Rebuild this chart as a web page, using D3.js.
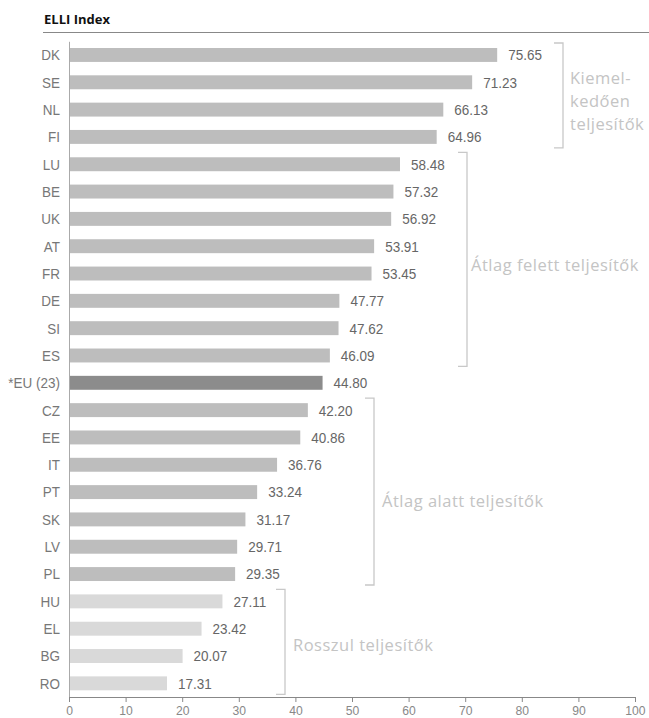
<!DOCTYPE html>
<html>
<head>
<meta charset="utf-8">
<script src="https://cdn.jsdelivr.net/npm/d3@7"></script>
<style>
  body { margin: 0; background: #fff; }
  svg { display: block; }
</style>
</head>
<body>
<svg id="chart" width="649" height="718"></svg>
<script>
// ELLI Index by country
const countries = ["DK","SE","NL","FI","LU","BE","UK","AT","FR","DE","SI","ES","*EU (23)","CZ","EE","IT","PT","SK","LV","PL","HU","EL","BG","RO"];
const values = [75.65,71.23,66.13,64.96,58.48,57.32,56.92,53.91,53.45,47.77,47.62,46.09,44.80,42.20,40.86,36.76,33.24,31.17,29.71,29.35,27.11,23.42,20.07,17.31];
const xTicks = [0,10,20,30,40,50,60,70,80,90,100];

// performance groups: first and last member, label lines
const groupNames = [["Kiemel-","kedően","teljesítők"],["Átlag felett teljesítők"],["Átlag alatt teljesítők"],["Rosszul teljesítők"]];
const groupFirst = ["DK","LU","CZ","HU"];
const groupLast = ["FI","ES","PL","RO"];

const svg = d3.select("#chart");
const narrowFont = "'Liberation Sans',Arial,sans-serif";
const squeeze = 0.9;   // horizontal compression for the narrow labels

const x = d3.scaleLinear().domain([0, 100]).range([69, 635]);
const y = d3.scaleBand().domain(countries).range([41.3, 697]).paddingInner(0.49).paddingOuter(0.245);

// title and rule
svg.append("text").attr("x", 44).attr("y", 24)
  .attr("font-family", "'Open Sans',sans-serif").attr("font-weight", "bold")
  .attr("font-size", 13).attr("fill", "#111").text("ELLI Index");
svg.append("line").attr("x1", 43).attr("x2", 649).attr("y1", 32.5).attr("y2", 32.5)
  .attr("stroke", "#888").attr("stroke-width", 1);

function barColor(c) {
  if (c === "*EU (23)") return "#8c8c8c";
  if (countries.indexOf(c) >= countries.indexOf("HU")) return "#d9d9d9";
  return "#bdbdbd";
}

// bars
svg.append("g").selectAll("rect").data(countries).join("rect")
  .attr("x", x(0)).attr("y", d => y(d))
  .attr("width", (d, i) => x(values[i]) - x(0))
  .attr("height", y.bandwidth())
  .attr("fill", barColor);

// value labels (narrowed text)
svg.append("g").selectAll("text").data(countries).join("text")
  .attr("transform", (d, i) => `translate(${x(values[i]) + 11},${y(d) + y.bandwidth() / 2}) scale(${squeeze},1)`)
  .attr("dy", "0.36em")
  .attr("font-family", narrowFont).attr("font-size", 15)
  .attr("fill", "#666")
  .text((d, i) => values[i].toFixed(2));

// category axis
const yAxis = svg.append("g").attr("transform", `translate(${x(0)},0)`)
  .call(d3.axisLeft(y).tickSize(0).tickPadding(9));
yAxis.select(".domain").attr("stroke", "#aaa");
yAxis.selectAll(".tick text")
  .attr("x", null).attr("dy", "0.36em")
  .attr("transform", `translate(-9,0) scale(${squeeze},1)`)
  .attr("font-family", narrowFont).attr("font-size", 15).attr("fill", "#777");

// value axis
const xAxis = svg.append("g").attr("transform", `translate(0,${697})`)
  .call(d3.axisBottom(x).tickValues(xTicks).tickSize(5).tickPadding(3).tickSizeOuter(0));
xAxis.select(".domain").attr("stroke", "#888");
xAxis.selectAll(".tick line").attr("stroke", "#888");
xAxis.selectAll(".tick text")
  .attr("y", null).attr("dy", null)
  .attr("transform", `translate(0,17.5) scale(${squeeze},1)`)
  .attr("font-family", narrowFont).attr("font-size", 13.5).attr("fill", "#888");

// group brackets with labels
const bracketX = [563, 467, 374, 285];
const labelGap = [7, 4, 8, 8];
const labelShift = [6, 6, 10, 3];
groupNames.forEach((lines, gi) => {
  const top = y(groupFirst[gi]) - 5;
  const bot = y(groupLast[gi]) + y.bandwidth() + 4;
  const bx = bracketX[gi];
  svg.append("path")
    .attr("d", `M${bx - 9},${top}H${bx}V${bot}H${bx - 9}`)
    .attr("fill", "none").attr("stroke", "#c8c8c8").attr("stroke-width", 1.3);
  const mid = (top + bot) / 2 + labelShift[gi];
  const t = svg.append("text")
    .attr("font-family", "'Open Sans',sans-serif").attr("font-size", 16.5)
    .attr("letter-spacing", 0.5)
    .attr("fill", "#c4c4c4");
  lines.forEach((ln, li) => {
    t.append("tspan").attr("x", bx + labelGap[gi])
      .attr("y", mid + (li - (lines.length - 1) / 2) * 23)
      .attr("dy", "0.35em").text(ln);
  });
});
</script>
</body>
</html>
